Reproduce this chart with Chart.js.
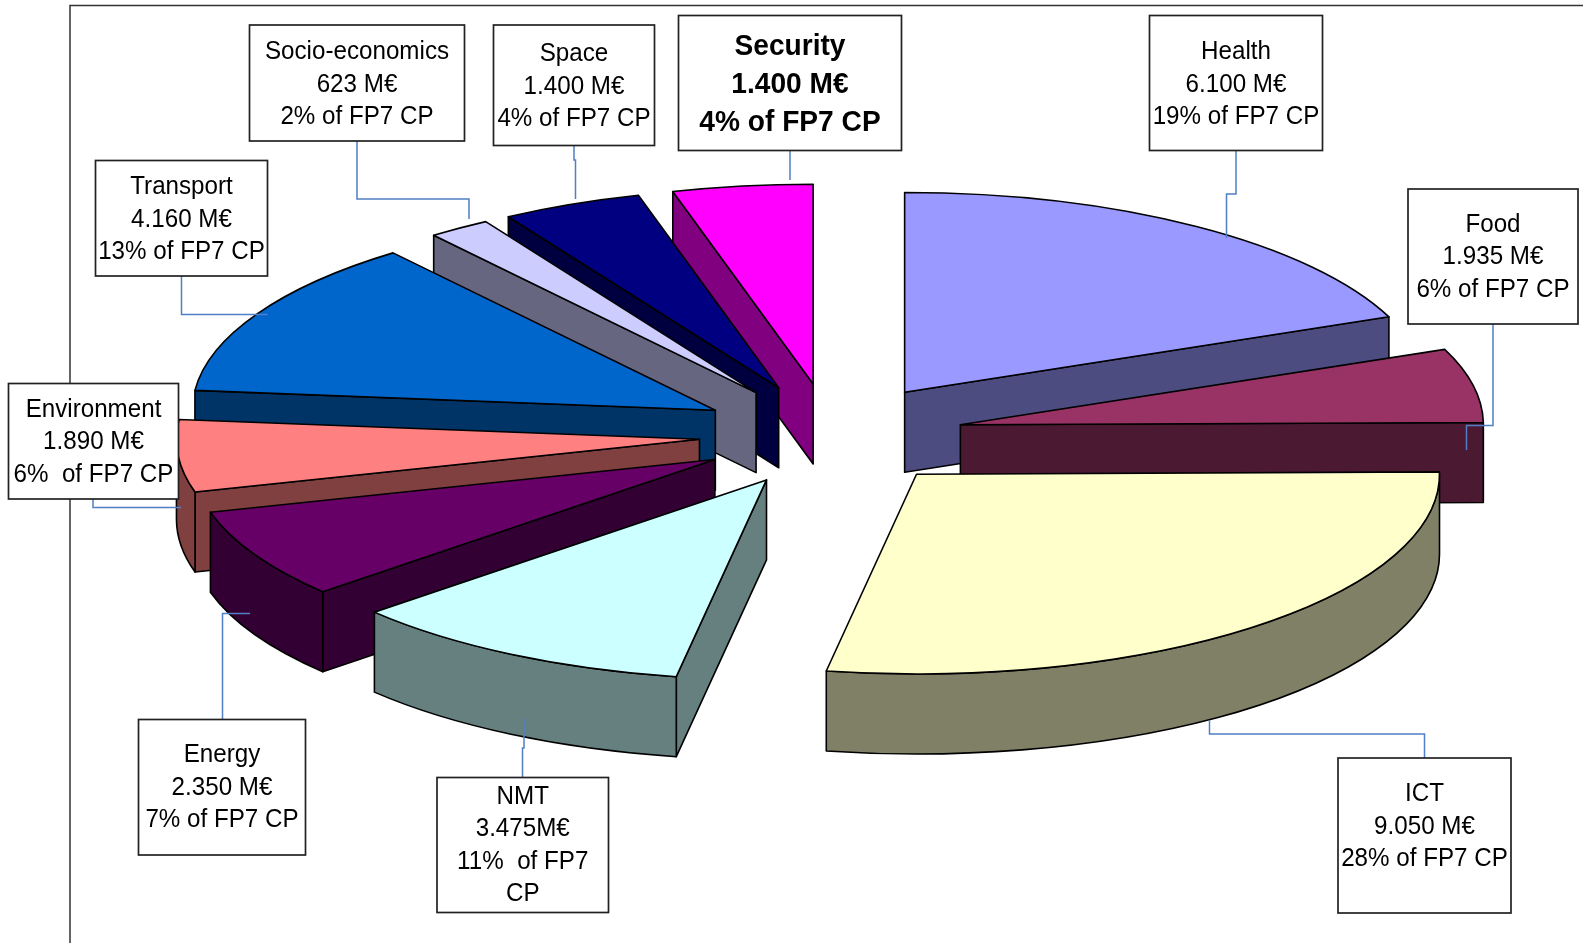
<!DOCTYPE html>
<html>
<head>
<meta charset="utf-8">
<title>FP7 CP budget</title>
<script src="https://cdn.jsdelivr.net/npm/chart.js@4"></script>
<style>
  html, body { margin: 0; padding: 0; background: #fff; }
  #wrap { position: relative; width: 1583px; height: 943px; }
</style>
</head>
<body>
<div id="wrap"><canvas id="pie" width="1583" height="943"></canvas></div>
<script>
// data
const categories = ['Health', 'Food', 'ICT', 'NMT', 'Energy', 'Environment', 'Transport', 'Socio-economics', 'Space', 'Security'];
const budgets = [6100, 1935, 9050, 3475, 2350, 1890, 4160, 623, 1400, 1400];
const budgetLabels = ['6.100 M€', '1.935 M€', '9.050 M€', '3.475M€', '2.350 M€', '1.890 M€', '4.160 M€', '623 M€', '1.400 M€', '1.400 M€'];
const shareLabels = ['19% of FP7 CP', '6% of FP7 CP', '28% of FP7 CP', '11%  of FP7\nCP', '7% of FP7 CP', '6%  of FP7 CP', '13% of FP7 CP', '2% of FP7 CP', '4% of FP7 CP', '4% of FP7 CP'];

const topColors = ['#9999ff', '#993366', '#ffffcc', '#ccffff', '#660066', '#ff8080', '#0066cc', '#ccccff', '#000080', '#ff00ff'];
const sideColors = ['#4c4c80', '#4c1933', '#808066', '#668080', '#330033', '#804040', '#003366', '#666680', '#000040', '#800080'];

// fake 3d settings
const pieX = 831, pieY = 435, pieRadius = 523, squash = 0.382, explode = 132, explodeSquash = 0.39, depth = 80;

// label boxes: x, y, w, h, first baseline, leader line
const boxes = [
    { x: 1149.5, y: 15.5, w: 173, h: 135, base: 59, leader: [[1236, 150], [1236, 194], [1226.5, 194], [1226.5, 238]] },
    { x: 1408, y: 189, w: 170, h: 135, base: 231.5, leader: [[1493, 324], [1493, 425.5], [1466.5, 425.5], [1466.5, 450]] },
    { x: 1338, y: 758, w: 173, h: 155, base: 801, leader: [[1424.5, 758], [1424.5, 734], [1209.5, 734], [1209.5, 720]] },
    { x: 437, y: 777.5, w: 171.5, h: 135, base: 803.5, leader: [[522.5, 777], [522.5, 748], [524, 748], [524, 719]] },
    { x: 138.5, y: 719.5, w: 167, h: 135.5, base: 762, leader: [[222.5, 720], [222.5, 613.5], [250, 613.5]] },
    { x: 8.5, y: 383.5, w: 170, h: 115.5, base: 416.5, leader: [[93, 499], [93, 507.5], [181, 507.5]] },
    { x: 95.5, y: 160.5, w: 172, h: 115.5, base: 194, leader: [[181.5, 276], [181.5, 314.5], [267.5, 314.5]] },
    { x: 249.5, y: 25, w: 215, h: 116, base: 59, leader: [[357, 141], [357, 199], [469, 199], [469, 219]] },
    { x: 493.5, y: 25, w: 161, h: 120.5, base: 61, leader: [[574, 145], [574, 160], [575.5, 160], [575.5, 199]] },
    { x: 678.5, y: 15.5, w: 223, h: 135, base: 54.5, bold: true, leader: [[790, 150], [790, 180]] }
];

function sliceCentre(el) {
    const mid = (el.startAngle + el.endAngle) / 2;
    return {
        x: pieX + Math.cos(mid) * explode,
        y: pieY + Math.sin(mid) * explode * explodeSquash
    };
}

function drawWalls(ctx, el, color) {
    const c = sliceCentre(el);
    const r = el.outerRadius;
    const ry = r * squash;
    ctx.fillStyle = color;

    const face = (a) => {
        ctx.beginPath();
        ctx.moveTo(c.x, c.y);
        ctx.lineTo(c.x + Math.cos(a) * r, c.y + Math.sin(a) * ry);
        ctx.lineTo(c.x + Math.cos(a) * r, c.y + Math.sin(a) * ry + depth);
        ctx.lineTo(c.x, c.y + depth);
        ctx.closePath();
        ctx.fill();
        ctx.stroke();
    };
    if (Math.cos(el.startAngle) < -0.001) face(el.startAngle);
    if (Math.cos(el.endAngle) > 0.001) face(el.endAngle);

    // outer rim, only the part turned to the viewer
    const a0 = Math.max(el.startAngle, 0);
    const a1 = Math.min(el.endAngle, Math.PI);
    if (a1 > a0) {
        ctx.beginPath();
        ctx.ellipse(c.x, c.y, r, ry, 0, a0, a1);
        ctx.ellipse(c.x, c.y + depth, r, ry, 0, a1, a0, true);
        ctx.closePath();
        ctx.fill();
        ctx.stroke();
    }
}

const fakePie3d = {
    id: 'fakePie3d',
    beforeDatasetDraw(chart, args) {
        const ctx = chart.ctx;
        const arcs = chart.getDatasetMeta(args.index).data;

        ctx.save();
        ctx.strokeStyle = '#000';
        ctx.lineWidth = 1.6;
        ctx.lineJoin = 'round';

        // walls first, from the back of the pie to the front
        const order = arcs.map((el, i) => i).sort((a, b) => sliceCentre(arcs[a]).y - sliceCentre(arcs[b]).y);
        order.forEach(i => drawWalls(ctx, arcs[i], sideColors[i]));

        // then the tops, squashed arcs from the library
        arcs.forEach(el => {
            const c = sliceCentre(el);
            ctx.save();
            ctx.translate(c.x, c.y);
            ctx.scale(1, squash);
            ctx.translate(-el.x, -el.y);
            el.draw(ctx);
            ctx.restore();

            ctx.beginPath();
            ctx.moveTo(c.x, c.y);
            ctx.ellipse(c.x, c.y, el.outerRadius, el.outerRadius * squash, 0, el.startAngle, el.endAngle);
            ctx.closePath();
            ctx.stroke();
        });
        ctx.restore();
        return false;
    },
    afterDraw(chart) {
        const ctx = chart.ctx;
        ctx.save();

        // frame of the slide
        ctx.strokeStyle = '#333';
        ctx.lineWidth = 1.5;
        ctx.beginPath();
        ctx.moveTo(70, 943);
        ctx.lineTo(70, 5.5);
        ctx.lineTo(1583, 5.5);
        ctx.stroke();

        boxes.forEach((b, i) => {
            ctx.strokeStyle = '#4f7fc4';
            ctx.lineWidth = 1.5;
            ctx.beginPath();
            b.leader.forEach((p, n) => n ? ctx.lineTo(p[0], p[1]) : ctx.moveTo(p[0], p[1]));
            ctx.stroke();

            ctx.fillStyle = '#fff';
            ctx.strokeStyle = '#222';
            ctx.lineWidth = 1.7;
            ctx.fillRect(b.x, b.y, b.w, b.h);
            ctx.strokeRect(b.x, b.y, b.w, b.h);

            const lines = [categories[i], budgetLabels[i]].concat(shareLabels[i].split('\n'));
            const step = b.bold ? 38 : 32.6;
            ctx.fillStyle = '#000';
            ctx.font = b.bold ? 'bold 29px "Liberation Sans", Arial, sans-serif' : '26px "Liberation Sans", Arial, sans-serif';
            ctx.textAlign = 'center';
            ctx.textBaseline = 'alphabetic';
            lines.forEach((t, n) => {
                ctx.save();
                ctx.translate(b.x + b.w / 2, b.base + n * step);
                ctx.scale(b.bold ? 0.97 : 0.93, 1);
                ctx.fillText(t, 0, 0);
                ctx.restore();
            });
        });
        ctx.restore();
    }
};

new Chart(document.getElementById('pie'), {
    type: 'pie',
    data: {
        labels: categories,
        datasets: [{
            data: budgets,
            backgroundColor: topColors,
            borderWidth: 0,
            radius: pieRadius
        }]
    },
    options: {
        responsive: false,
        animation: false,
        events: [],
        layout: { padding: 0 },
        plugins: {
            legend: { display: false },
            tooltip: { enabled: false }
        }
    },
    plugins: [fakePie3d]
});
</script>
</body>
</html>
